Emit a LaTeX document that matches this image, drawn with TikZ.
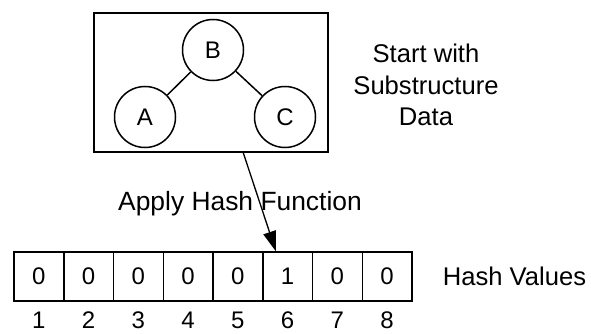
\documentclass[tikz,border=0pt]{standalone}
\usepackage{fontspec}
\setmainfont{Liberation Sans}
\usetikzlibrary{arrows.meta,calc}
\begin{document}
\begin{tikzpicture}[x=1pt,y=-1pt,
  every node/.style={font=\fontsize{24}{31}\selectfont, inner sep=0pt},
  label text/.style={font=\fontsize{25.6}{31.5}\selectfont},
  frame/.style={draw, line width=1.6pt, minimum width=234pt, minimum height=139pt},
  vertex/.style={draw, circle, line width=1.5pt, minimum size=61pt},
  edge/.style={line width=1.5pt},
  cell/.style={draw, line width=1.5pt, minimum width=49.75pt, minimum height=49pt},
  hasharrow/.style={line width=1.3pt, -{Triangle[length=20pt,width=13pt]}}]
\useasboundingbox (0,0) rectangle (591,334);
% substructure box with its small graph
\node[frame] (box) at (211,82.5) {};
\node[vertex] (B) at (213,50) {B};
\node[vertex] (A) at (145,117) {A};
\node[vertex] (C) at (285,117) {C};
\draw[edge] (B) -- (A);
\draw[edge] (B) -- (C);
\node[label text, align=center] (start) at (426,85) {Start with\\Substructure\\Data};
% hash table
\foreach \v [count=\i] in {0,0,0,0,0,1,0,0} {
  \node[cell] (c\i) at ({14+49.75*(\i-0.5)},276.5) {\v};
  \node (n\i) at ({14+49.75*(\i-0.5)},320.5) {\i};
}
\node[label text] (hv) at (514.5,276) {Hash Values};
% hashing step
\node[font=\fontsize{26.4}{32}\selectfont] (apply) at (240,204) {Apply Hash Function};
\draw[hasharrow] ($(box.south west)!0.637!(box.south east)$) -- ($(c6.north west)!0.27!(c6.north east)$);
\end{tikzpicture}
\end{document}
